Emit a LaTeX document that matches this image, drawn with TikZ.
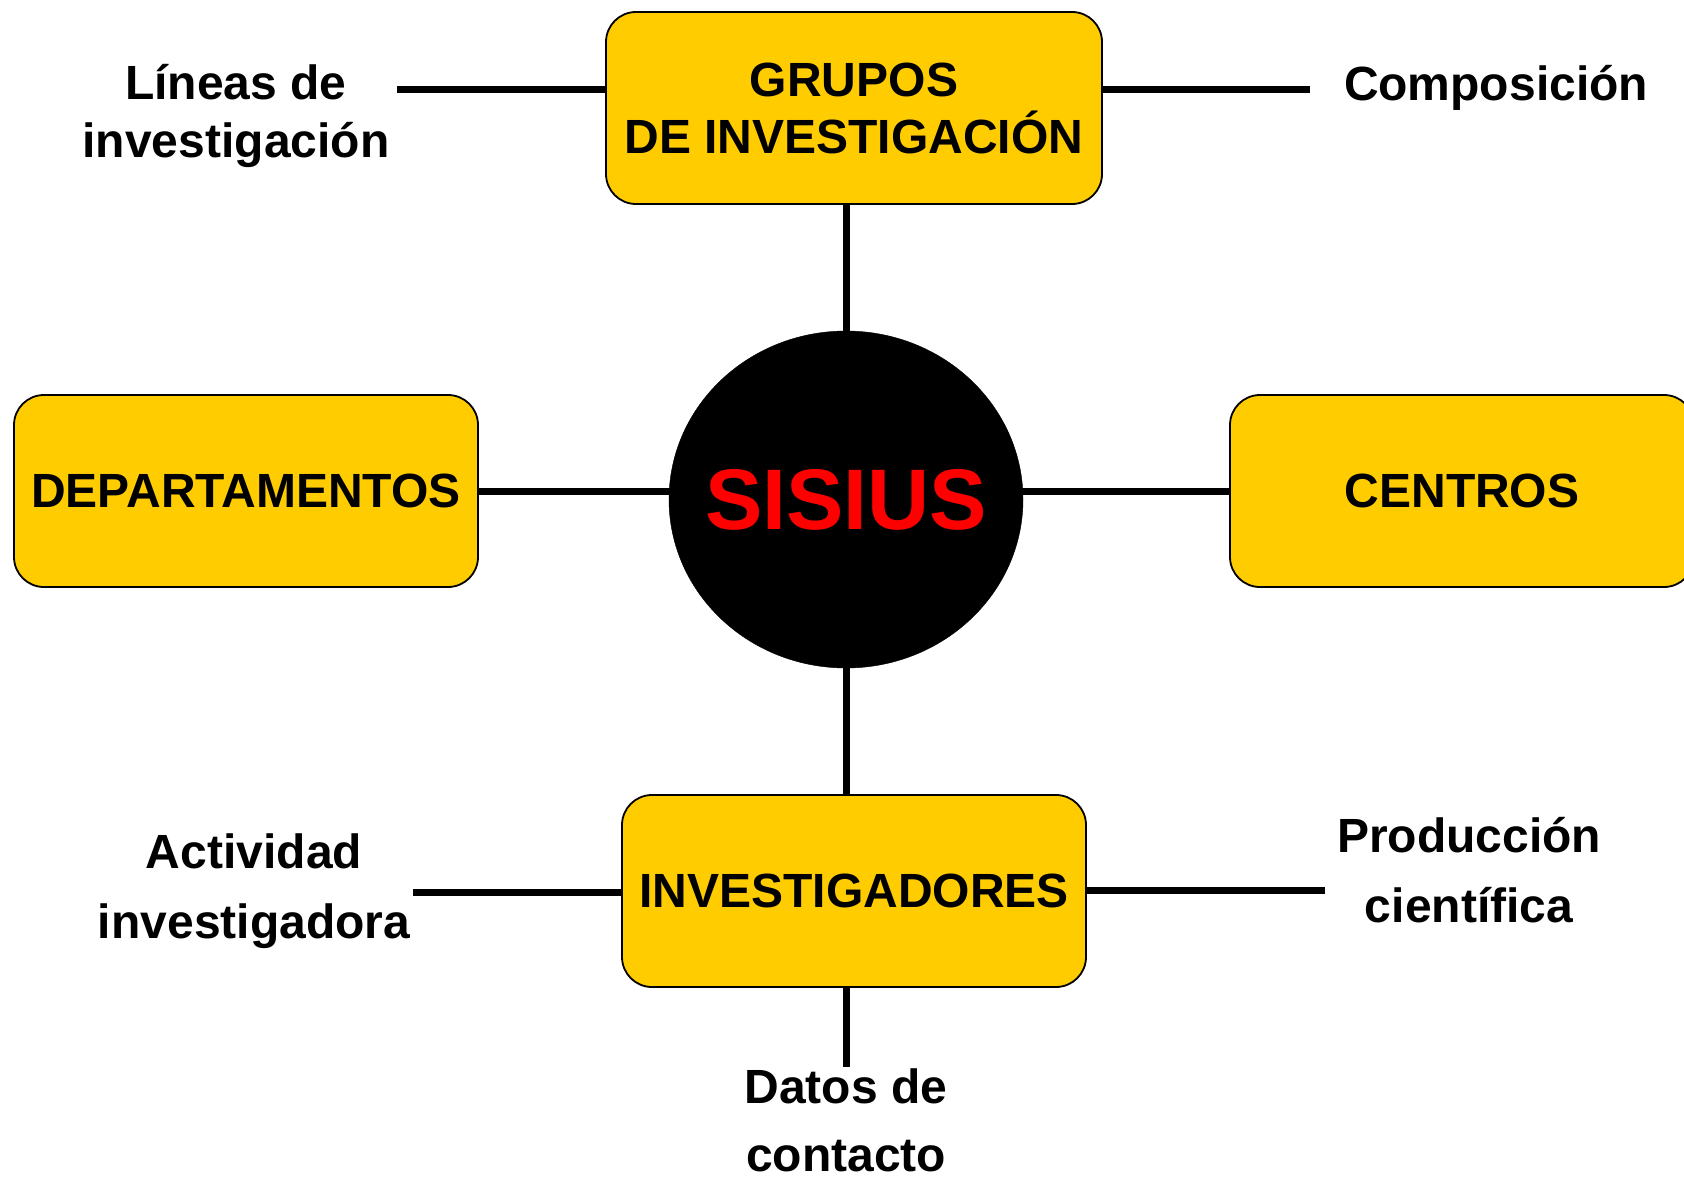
\documentclass[tikz,border=0pt]{standalone}
\usepackage{fontspec}
\setmainfont{Liberation Sans}
\usetikzlibrary{shapes.geometric,backgrounds}
\definecolor{boxyellow}{HTML}{FFCC00}
\definecolor{sisred}{HTML}{FF0000}
\begin{document}
\begin{tikzpicture}[x=1pt,y=-1pt,
  ybox/.style={draw=black,line width=1.8pt,fill=boxyellow,rounded corners=30pt,
    minimum width=464pt,minimum height=192pt,inner sep=0pt,align=center,
    font=\fontsize{48}{57}\selectfont\bfseries},
  lbl/.style={inner sep=0pt,align=center},
  conn/.style={line width=7pt,black}]
\useasboundingbox (0,0) rectangle (1684,1180);
% boxes
\node[ybox,minimum width=496pt] (grp) at (854,108) {GRUPOS\\DE INVESTIGACIÓN};
\node[ybox] (dep) at (246,491) {DEPARTAMENTOS};
\node[ybox] (cen) at (1462,491) {CENTROS};
\node[ybox] (inv) at (854,891) {INVESTIGADORES};
\node[ellipse,fill=black,draw=black,minimum width=354pt,minimum height=337pt,
  inner xsep=-25pt,inner ysep=0pt,
  text=sisred,font=\fontsize{86}{86}\selectfont\bfseries] (circ) at (846,499.5) {SISIUS};
% labels
\node[lbl,font=\fontsize{48}{58}\selectfont\bfseries] (lin) at (236,115.5) {Líneas de\\investigación};
\node[lbl,font=\fontsize{48}{54}\selectfont\bfseries] (comp) at (1496,87.5) {Composición};
\node[lbl,font=\fontsize{48}{70}\selectfont\bfseries] (act) at (254,891) {Actividad\\investigadora};
\node[lbl,font=\fontsize{48}{70}\selectfont\bfseries] (prod) at (1469,870) {Producción\\científica};
\node[lbl,font=\fontsize{48}{68}\selectfont\bfseries] (datos) at (846,1120) {Datos de\\contacto};
% free ends of connectors
\coordinate (e1) at (397,90);
\coordinate (e2) at (1310,90);
\coordinate (e3) at (413,892);
\coordinate (e4) at (1325,890);
\coordinate (e5) at (846,1067);
\begin{scope}[on background layer]
  \fill[white] (0,0) rectangle (1684,1180);
  \draw[conn] (e1) -- (e1 -| grp.west);
  \draw[conn] (e2 -| grp.east) -- (e2);
  \draw[conn] (circ.center |- grp.south) -- (circ.center);
  \draw[conn] (dep.east) -- (dep.east -| circ.center);
  \draw[conn] (cen.west -| circ.center) -- (cen.west);
  \draw[conn] (circ.center) -- (circ.center |- inv.north);
  \draw[conn] (e3) -- (e3 -| inv.west);
  \draw[conn] (e4 -| inv.east) -- (e4);
  \draw[conn] (e5 |- inv.south) -- (e5);
\end{scope}
\end{tikzpicture}
\end{document}
